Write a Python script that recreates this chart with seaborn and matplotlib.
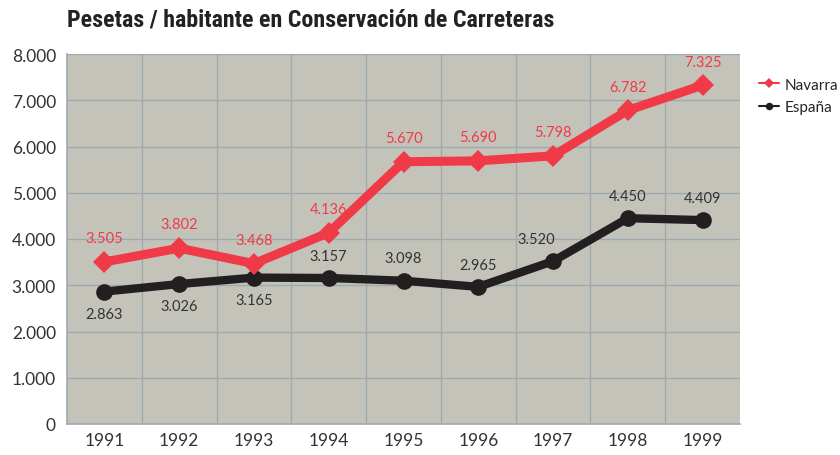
import matplotlib
matplotlib.use("Agg")
import matplotlib.pyplot as plt
import seaborn as sns
import pandas as pd
from matplotlib.ticker import FuncFormatter
from matplotlib import font_manager as fm

years = ["1991", "1992", "1993", "1994", "1995", "1996", "1997", "1998", "1999"]
navarra = [3505, 3802, 3468, 4136, 5670, 5690, 5798, 6782, 7325]
espana = [2863, 3026, 3165, 3157, 3098, 2965, 3520, 4450, 4409]
series_names = ["Navarra", "España"]
title = "Pesetas / habitante en Conservación de Carreteras"

sns.set_theme(style="white")
plt.rcParams['font.family'] = ['Lato', 'DejaVu Sans']

names = {f.name for f in fm.fontManager.ttflist}
title_family = None
for cand in ["Liberation Sans Narrow", "DejaVu Sans Condensed", "Roboto Condensed", "Open Sans Condensed"]:
    if cand in names:
        title_family = cand
        break

red = "#F03A48"
black = "#231F20"
bg = "#C4C3BA"
grid = "#9CAAB0"

df = pd.DataFrame({
    "x": list(range(len(years))) * 2,
    "valor": navarra + espana,
    "serie": [series_names[0]] * len(years) + [series_names[1]] * len(years),
})

fig = plt.figure(figsize=(8.4, 4.56), dpi=100)
ax = fig.add_axes([67/840, 31/456, 673/840, 370/456])
ax.set_facecolor(bg)

sns.lineplot(data=df[df.serie == "Navarra"], x="x", y="valor", color=red, lw=6.5,
             marker="D", markersize=11, markeredgewidth=0, ax=ax, label="Navarra", zorder=4)
sns.lineplot(data=df[df.serie == "España"], x="x", y="valor", color=black, lw=6,
             marker="o", markersize=12, markeredgewidth=0, ax=ax, label="España", zorder=3)

ax.set_xlim(-0.5, len(years) - 0.5)
ax.set_ylim(0, 8000)
ax.set_yticks(range(0, 8001, 1000))
ax.yaxis.set_major_formatter(FuncFormatter(lambda v, p: f"{int(v):,}".replace(",", ".")))
ax.set_xticks(range(len(years)))
ax.set_xticklabels(years)
ax.grid(False)
for y in range(1000, 8001, 1000):
    ax.axhline(y, color=grid, lw=1, zorder=1)
for xm in [i + 0.5 for i in range(len(years) - 1)]:
    ax.axvline(xm, color=grid, lw=1, zorder=1)
ax.set_xlabel("")
ax.set_ylabel("")
ax.tick_params(axis="both", which="both", length=0, labelsize=12.5, colors="#333333")
ax.tick_params(axis="y", pad=8)
ax.tick_params(axis="x", pad=6)
for s in ["top", "right"]:
    ax.spines[s].set_visible(False)
for s in ["left", "bottom"]:
    ax.spines[s].set_color(grid)
    ax.spines[s].set_linewidth(1.2)

# data labels
for i, v in enumerate(navarra):
    ax.annotate(f"{v:,}".replace(",", "."), (i, v), xytext=(0, 12), textcoords="offset points",
                ha="center", va="bottom", color=red, fontsize=10.5)
esp_off = [(0, -11, "top"), (0, -11, "top"), (0, -11, "top"), (0, 11, "bottom"), (0, 11, "bottom"),
           (0, 11, "bottom"), (-12, 11, "bottom"), (0, 11, "bottom"), (0, 11, "bottom")]
for i, v in enumerate(espana):
    dx, dy, va = esp_off[i]
    ax.annotate(f"{v:,}".replace(",", "."), (i, v), xytext=(dx, dy), textcoords="offset points",
                ha="center", va=va, color="#333333", fontsize=10.5)

if title_family:
    fig.text(67/840, 1 - 20/456, title, fontsize=17.3, fontweight="bold", color="#222222",
             family=[title_family, "DejaVu Sans"], va="center", ha="left")
else:
    fig.text(67/840, 1 - 20/456, title, fontsize=15, fontweight="bold", color="#222222",
             family=["Roboto", "DejaVu Sans"], va="center", ha="left", fontstretch="condensed")

h, l = ax.get_legend_handles_labels()
leg = ax.legend(h, l, loc="upper left", bbox_to_anchor=(1.012, 0.965), frameon=False,
                fontsize=11, handlelength=1.3, markerscale=0.45, labelspacing=0.55,
                handletextpad=0.4, borderaxespad=0.3)
for line in leg.get_lines():
    line.set_linewidth(1.5)

fig.savefig("out.png", dpi=100)
